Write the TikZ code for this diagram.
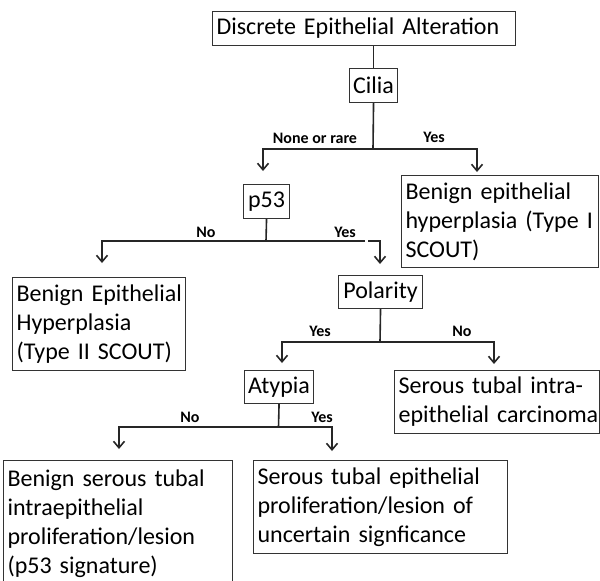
\documentclass[tikz,border=0pt]{standalone}
\usepackage{fontspec}
\setmainfont{Carlito}
\usetikzlibrary{arrows.meta}
\begin{document}
\begin{tikzpicture}[x=1pt,y=-1pt,
  box/.style={draw=black!80, line width=1.1pt, rectangle, anchor=north west,
    inner xsep=4pt, inner ysep=0pt, align=left,
    font=\fontsize{24}{29}\selectfont,
    execute at begin node={\hbadness=10000\hfuzz=80pt}},
  sbox/.style={box, align=center, inner xsep=2pt},
  lbl/.style={font=\bfseries\fontsize{16}{18}\selectfont, inner sep=0pt},
  ln/.style={line width=1.6pt, black!85},
  arr/.style={ln, -{Straight Barb[length=6.5pt,width=11pt,line width=1.6pt]}}
]
\fill[white] (0,0) rectangle (600,581);
\useasboundingbox (0,0) rectangle (600,581);

% boxes
\node[box, text width=295pt, minimum height=34pt] (top) at (212,11) {\mbox{Discrete Epithelial Alteration}};
\node[sbox, text width=44pt, minimum height=34pt] (cilia) at (349,68) {Cilia};
\node[sbox, text width=42pt, minimum height=34pt] (p53) at (243,184) {p53};
\node[box, text width=189pt, minimum height=92pt] (bh1) at (401,175) {\mbox{Benign epithelial}\\\mbox{hyperplasia (Type I}\\\mbox{SCOUT)}};
\node[sbox, text width=80pt, minimum height=33pt] (pol) at (338,275) {Polarity};
\node[box, text width=165pt, minimum height=93pt] (bh2) at (12,277) {\mbox{Benign Epithelial}\\\mbox{Hyperplasia}\\\mbox{(Type II SCOUT)}};
\node[sbox, text width=65pt, minimum height=33pt] (aty) at (244,370) {Atypia};
\node[box, text width=197pt, minimum height=63pt] (stic) at (394,370) {\mbox{Serous tubal intra-}\\\mbox{epithelial carcinoma}};
\node[box, text width=221pt, minimum height=127pt] (stil) at (3,460) {\mbox{Benign serous tubal}\\\mbox{intraepithelial}\\\mbox{proliferation/lesion}\\\mbox{(p53 signature)}};
\node[box, text width=246pt, minimum height=93pt] (stel) at (253,460) {\mbox{Serous tubal epithelial}\\\mbox{proliferation/lesion of}\\\mbox{uncertain signficance}};

% connector points
\coordinate (j1) at (373,149);
\coordinate (t1) at (263,171);
\coordinate (t2) at (477,172);
\coordinate (j2) at (266,241);
\coordinate (t3) at (102,263);
\coordinate (h1) at (365,241);
\coordinate (h2) at (368,241);
\coordinate (t4) at (380,264);
\coordinate (j3) at (380,342);
\coordinate (t5) at (282,363);
\coordinate (t6) at (494,364);
\coordinate (j4) at (278.5,427);
\coordinate (t7) at (119,449);
\coordinate (t8) at (332,451);

% connectors
\draw[ln] (top.south -| cilia.north) -- (cilia.north);
\draw[ln] (cilia.south) -- (j1);
\draw[arr] (j1) -| (t1);
\draw[arr] (j1) -| (t2);
\draw[ln] (p53.south) -- (j2);
\draw[arr] (j2) -| (t3);
\draw[ln] (j2) -- (h1);
\draw[arr] (h2) -| (t4);
\draw[ln] (pol.south) -- (j3);
\draw[arr] (j3) -| (t5);
\draw[arr] (j3) -| (t6);
\draw[ln] (aty.south) -- (j4);
\draw[arr] (j4) -| (t7);
\draw[arr] (j4) -| (t8);

% labels
\node[lbl] (l1) at (315,138) {None or rare};
\node[lbl] (l2) at (434,137) {Yes};
\node[lbl] (l3) at (206,232) {No};
\node[lbl] (l4) at (345,232) {Yes};
\node[lbl] (l5) at (320,331) {Yes};
\node[lbl] (l6) at (462,331) {No};
\node[lbl] (l7) at (190,417) {No};
\node[lbl] (l8) at (322,417) {Yes};
\end{tikzpicture}
\end{document}
